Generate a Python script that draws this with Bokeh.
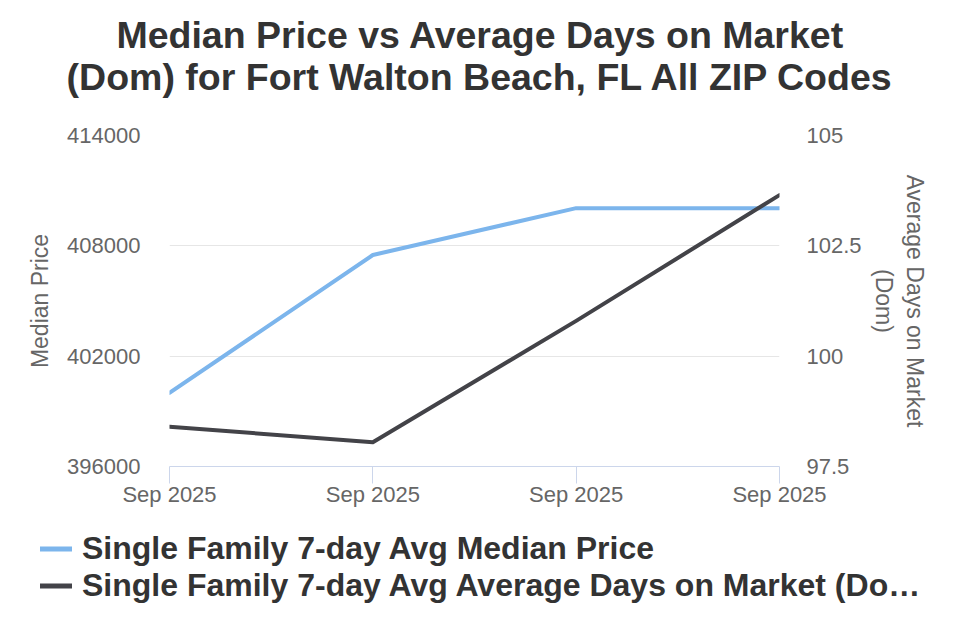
from bokeh.plotting import figure
from bokeh.layouts import column
from bokeh.models import (Range1d, LinearAxis, FixedTicker, Label, Legend, LegendItem, Plot,
                          BasicTickFormatter, CustomJSTickFormatter, ColumnDataSource)
from bokeh.embed import file_html
from bokeh.resources import INLINE

# ---- data ----
dates = ["Sep 2025", "Sep 2025", "Sep 2025", "Sep 2025"]
median_price = [400000, 407500, 410050, 410050]
avg_dom = [98.40, 98.05, 100.80, 103.65]
price_ticks = [396000, 402000, 408000, 414000]
dom_ticks = [97.5, 100, 102.5, 105]
series_names = ["Single Family 7-day Avg Median Price",
                "Single Family 7-day Avg Average Days on Market (Do\u2026"]
title_lines = ["Median Price vs Average Days on Market",
               "(Dom) for Fort Walton Beach, FL All ZIP Codes"]

FONT = "Liberation Sans"
BLUE, DARK = "#7cb5ec", "#434348"
HAS_ALIGN = "frame_align" in Plot.properties()
x_idx = list(range(len(dates)))
src = ColumnDataSource(dict(x=x_idx, price=median_price, dom=avg_dom))


def strip(height):
    f = figure(width=960, height=height, output_backend="svg", toolbar_location=None,
               title=None, x_axis_type=None, y_axis_type=None,
               min_border_left=0, min_border_right=0, min_border_top=0, min_border_bottom=0)
    f.outline_line_color = None
    f.xgrid.visible = False
    f.ygrid.visible = False
    if HAS_ALIGN:
        f.frame_align = False
    return f


# ---- title strip ----
TH = 115
ts = strip(TH)
for line, cy in zip(title_lines, [34, 76]):
    ts.add_layout(Label(x=480, y=TH - cy, x_units="screen", y_units="screen", text=line,
                        text_align="center", text_baseline="middle", text_font=FONT,
                        text_font_size="37.5px", text_font_style="bold",
                        text_color="#333333"))

# ---- main chart ----
p = figure(width=960, height=415, output_backend="svg", toolbar_location=None, title=None,
           x_range=Range1d(0, len(dates) - 1),
           y_range=Range1d(price_ticks[0], price_ticks[-1]),
           min_border_left=169, min_border_right=181,
           min_border_top=20, min_border_bottom=64)
if HAS_ALIGN:
    p.frame_align = False
p.outline_line_color = None
p.background_fill_color = "white"
p.border_fill_color = "white"
p.extra_y_ranges = {"dom": Range1d(dom_ticks[0], dom_ticks[-1])}

# x axis
xa = p.xaxis[0]
xa.ticker = FixedTicker(ticks=x_idx)
xa.major_label_overrides = {i: d for i, d in enumerate(dates)}
xa.axis_line_color = "#ccd6eb"
xa.major_tick_line_color = "#ccd6eb"
xa.major_tick_out = 17
xa.major_tick_in = 0
xa.minor_tick_line_color = None
xa.major_label_standoff = -2
xa.major_label_text_font = FONT
xa.major_label_text_font_size = "22px"
xa.major_label_text_color = "#666666"

# left axis
ya = p.yaxis[0]
ya.ticker = FixedTicker(ticks=price_ticks)
ya.formatter = BasicTickFormatter(use_scientific=False)
ya.axis_line_color = None
ya.major_tick_line_color = None
ya.minor_tick_line_color = None
ya.major_label_standoff = 23
ya.major_label_text_font = FONT
ya.major_label_text_font_size = "22px"
ya.major_label_text_color = "#666666"
ya.axis_label = "Median Price"
ya.axis_label_text_font = FONT
ya.axis_label_text_font_size = "23px"
ya.axis_label_text_font_style = "normal"
ya.axis_label_text_color = "#666666"
ya.axis_label_standoff = 11

# right axis
ra = LinearAxis(y_range_name="dom", ticker=FixedTicker(ticks=dom_ticks),
                formatter=CustomJSTickFormatter(code="return String(tick)"))
ra.axis_line_color = None
ra.major_tick_line_color = None
ra.minor_tick_line_color = None
ra.major_label_standoff = 21
ra.major_label_text_font = FONT
ra.major_label_text_font_size = "22px"
ra.major_label_text_color = "#666666"
ra.axis_label = "Average Days on Market\n(Dom)"
ra.axis_label_text_font = FONT
ra.axis_label_text_font_size = "23px"
ra.axis_label_text_font_style = "normal"
ra.axis_label_text_color = "#666666"
ra.axis_label_standoff = 6
p.add_layout(ra, "right")

# grid
p.xgrid.grid_line_color = None
p.ygrid.grid_line_color = "#e6e6e6"
p.ygrid.grid_line_width = 1

# lines
p.line("x", "price", source=src, line_color=BLUE, line_width=4,
       line_join="round", line_cap="round")
p.line("x", "dom", source=src, y_range_name="dom", line_color=DARK,
       line_width=4, line_join="round", line_cap="round")

# ---- legend strip ----
lg = strip(110)
k1 = lg.line("x", "price", source=src, line_color=BLUE, line_width=5, line_cap="round",
             visible=False)
k2 = lg.line("x", "dom", source=src, line_color=DARK, line_width=5, line_cap="round",
             visible=False)
legend = Legend(items=[LegendItem(label=series_names[0], renderers=[k1]),
                       LegendItem(label=series_names[1], renderers=[k2])],
                location=(40, 36), orientation="vertical",
                label_text_font=FONT, label_text_font_size="32px",
                label_text_font_style="bold", label_text_color="#333333",
                glyph_width=32, glyph_height=31, label_height=31,
                label_standoff=10, padding=0, margin=0, spacing=-12,
                background_fill_alpha=0, border_line_alpha=0,
                inactive_fill_alpha=0)
lg.add_layout(legend, "center")

layout = column(ts, p, lg, spacing=0)
open("out.html", "w").write(file_html(layout, INLINE))
